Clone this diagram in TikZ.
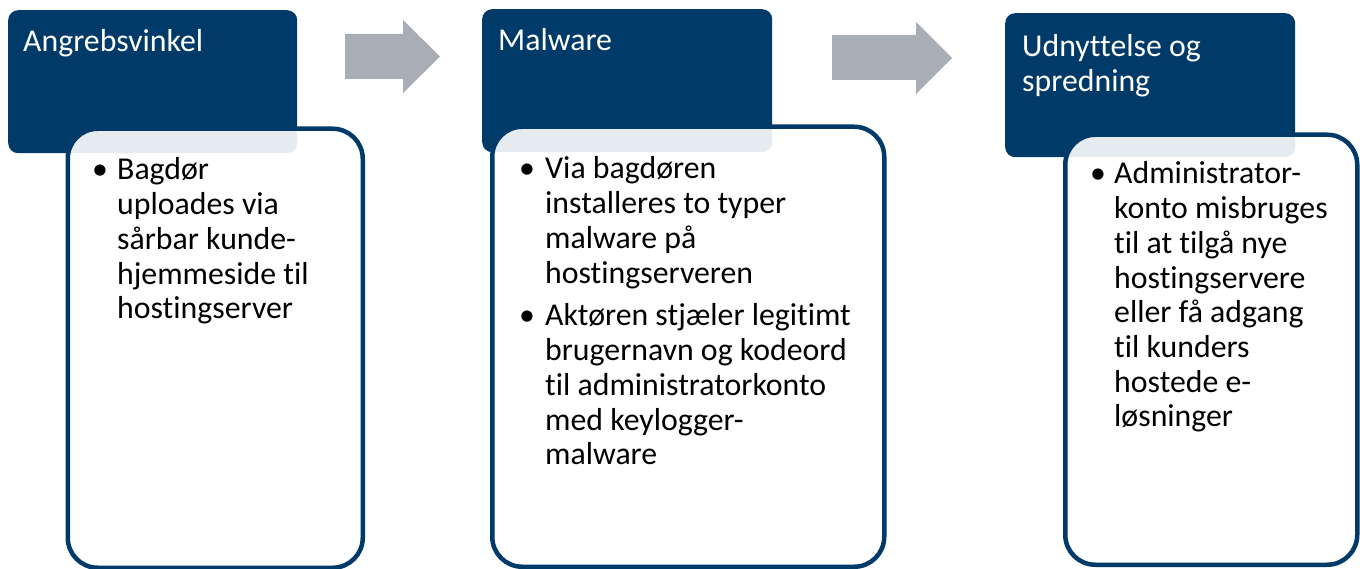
\documentclass[tikz,border=0pt]{standalone}
\usepackage{fontspec}
\setmainfont{Carlito}[Ligatures={NoCommon}]
\definecolor{navy}{HTML}{003A68}
\definecolor{arrowgray}{HTML}{A9ADB5}
\tikzset{
  header/.style={fill=navy, rounded corners=10pt, anchor=north west, inner sep=0pt},
  card/.style={draw=navy, line width=4.5pt, fill=white, fill opacity=0.9, rounded corners=30pt, anchor=north west, inner sep=0pt},
  flow/.style={fill=arrowgray},
  ttl/.style={anchor=base west, inner sep=0pt, text=white, font=\fontsize{31.8}{34.7}\selectfont},
  txt/.style={anchor=base west, inner sep=0pt, font=\fontsize{31.8}{34.7}\selectfont},
  bul/.style={anchor=base, inner sep=0pt, font=\fontsize{31.8}{34.7}\selectfont},
}
\begin{document}
\begin{tikzpicture}[x=1pt, y=-1pt]
\useasboundingbox (0,0) rectangle (1360,569);
% header boxes
\node[header, minimum width=289pt, minimum height=143pt] (h1) at (8,10) {};
\node[header, minimum width=290pt, minimum height=143pt] (h2) at (482,9) {};
\node[header, minimum width=290pt, minimum height=144pt] (h3) at (1005,13) {};
% cards
\node[card, minimum width=295pt, minimum height=439pt] (c1) at (65.5,126.5) {};
\node[card, minimum width=392pt, minimum height=440pt] (c2) at (490,124.5) {};
\node[card, minimum width=292pt, minimum height=430pt] (c3) at (1063,132.5) {};
% arrows
\fill[flow] (345,34) -- (403,34) -- (403,20) -- (440,56.5) -- (403,93) -- (403,79) -- (345,79) -- cycle;
\fill[flow] (832,35) -- (916,35) -- (916,22) -- (952,58) -- (916,94) -- (916,80) -- (832,80) -- cycle;
% titles
\node[ttl] (t1) at (23,52) {Angrebsvinkel};
\node[ttl] (t2) at (498,51) {Malware};
\node[ttl] (t3) at (1022,57) {\parbox[t]{260pt}{Udnyttelse og\\spredning}};
% card 1
\node[bul] (b1) at (100,180) {•};
\node[txt] (p1) at (117,180) {\parbox[t]{240pt}{\raggedright Bagdør\\uploades via\\sårbar kunde-\\hjemmeside til\\hostingserver}};
% card 2
\node[bul] (b2) at (527,179) {•};
\node[txt] (p2) at (545,179) {\parbox[t]{330pt}{\raggedright Via bagdøren\\installeres to typer\\malware på\\hostingserveren}};
\node[bul] (b3) at (527,326) {•};
\node[txt] (p3) at (545,326) {\parbox[t]{330pt}{\raggedright Aktøren stjæler legitimt\\brugernavn og kodeord\\til administratorkonto\\med keylogger-\\malware}};
% card 3
\node[bul] (b4) at (1098,184) {•};
\node[txt] (p4) at (1114,184) {\parbox[t]{240pt}{\raggedright Administrator-\\konto misbruges\\til at tilgå nye\\hostingservere\\eller få adgang\\til kunders\\hostede e-\\løsninger}};
\end{tikzpicture}
\end{document}
